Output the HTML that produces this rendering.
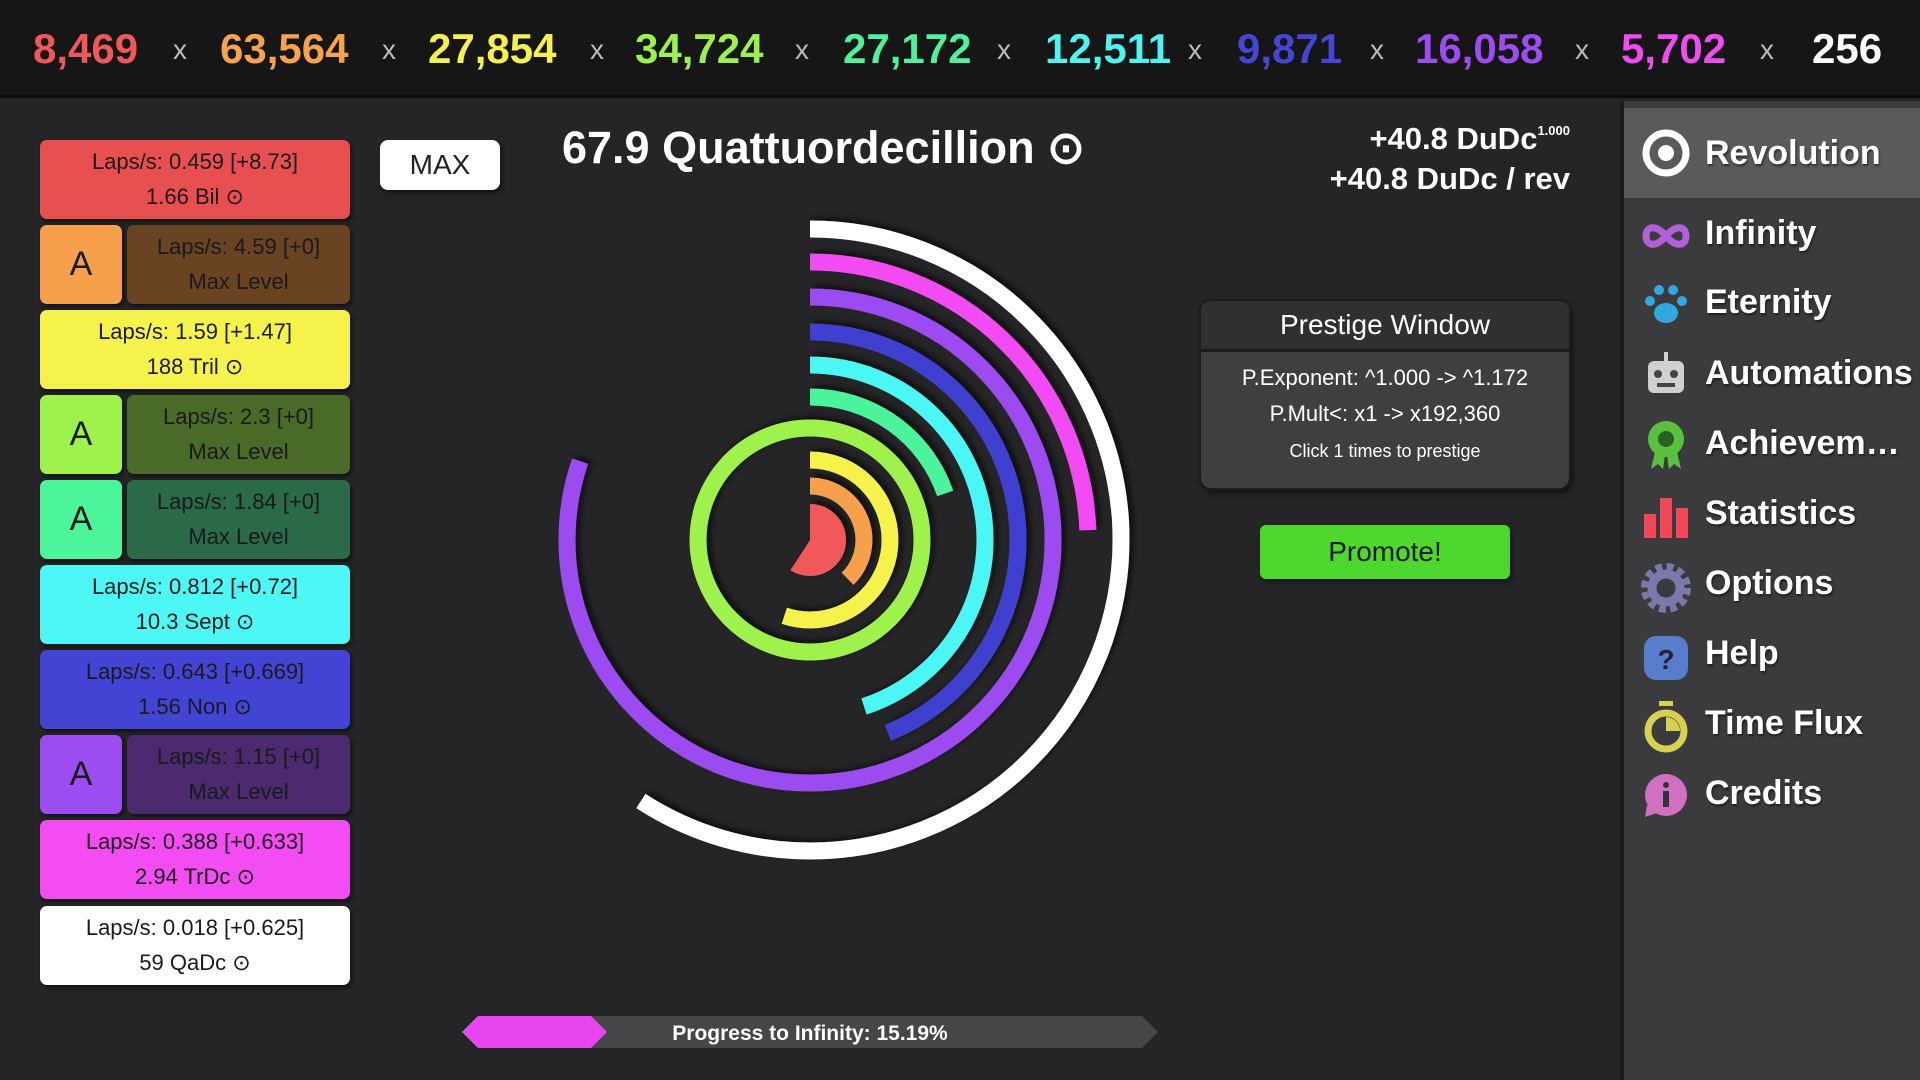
<!DOCTYPE html>
<html><head><meta charset="utf-8"><style>
*{margin:0;padding:0;box-sizing:border-box}
body{width:1920px;height:1080px;background:#252527;font-family:"Liberation Sans",sans-serif;position:relative;overflow:hidden}
.top{position:absolute;left:0;top:0;width:1920px;height:98px;background:#161616;border-bottom:3px solid #0c0c0c}
.n{position:absolute;top:24px;font-size:42px;font-weight:bold;line-height:50px}
.x{position:absolute;top:30px;font-size:28px;color:#bbb;line-height:40px}
.side{position:absolute;left:1620px;top:101px;width:300px;height:979px;background:#3b3b3d;border-left:4px solid #1b1b1d}
.sel{position:absolute;left:0;top:7px;width:300px;height:90px;background:#5a5a5c}
.it{position:absolute;left:81px;font-size:34px;font-weight:bold;color:#fff;line-height:40px;text-shadow:1px 2px 2px rgba(0,0,0,.5)}
.ic{position:absolute;left:17px}
.b{position:absolute;border-radius:7px;text-align:center;font-size:22px;color:#1a1a1a;line-height:35px;padding-top:4px;box-shadow:2px 3px 4px rgba(0,0,0,.5)}
.a{position:absolute;border-radius:7px;font-size:34px;color:#1a1a1a;text-align:center;line-height:79px;box-shadow:2px 3px 4px rgba(0,0,0,.5)}
.w{color:#fff}
</style></head><body>
<div class="top">
<span class="n" style="left:33px;color:#f0585b">8,469</span><span class="x" style="left:173px">x</span>
<span class="n" style="left:220px;color:#f7a34e">63,564</span><span class="x" style="left:382px">x</span>
<span class="n" style="left:428px;color:#f4f04c">27,854</span><span class="x" style="left:590px">x</span>
<span class="n" style="left:635px;color:#9ef04c">34,724</span><span class="x" style="left:795px">x</span>
<span class="n" style="left:843px;color:#4cf39c">27,172</span><span class="x" style="left:997px">x</span>
<span class="n" style="left:1045px;color:#4cf5f2">12,511</span><span class="x" style="left:1188px">x</span>
<span class="n" style="left:1237px;color:#4646d6">9,871</span><span class="x" style="left:1370px">x</span>
<span class="n" style="left:1415px;color:#9c4cf0">16,058</span><span class="x" style="left:1575px">x</span>
<span class="n" style="left:1621px;color:#f04cf0">5,702</span><span class="x" style="left:1760px">x</span>
<span class="n" style="left:1812px;color:#fff">256</span>
</div>

<!-- left buttons -->
<div class="b" style="left:40px;top:140px;width:310px;height:79px;background:#e84f50">Laps/s: 0.459 [+8.73]<br>1.66 Bil ⊙</div>
<div class="a" style="left:40px;top:225px;width:82px;height:79px;background:#f7a04c">A</div>
<div class="b" style="left:127px;top:225px;width:223px;height:79px;background:#6a4322">Laps/s: 4.59 [+0]<br>Max Level</div>
<div class="b" style="left:40px;top:310px;width:310px;height:79px;background:#f5f24b">Laps/s: 1.59 [+1.47]<br>188 Tril ⊙</div>
<div class="a" style="left:40px;top:395px;width:82px;height:79px;background:#9ef24b">A</div>
<div class="b" style="left:127px;top:395px;width:223px;height:79px;background:#4a6a28">Laps/s: 2.3 [+0]<br>Max Level</div>
<div class="a" style="left:40px;top:480px;width:82px;height:79px;background:#4cf59c">A</div>
<div class="b" style="left:127px;top:480px;width:223px;height:79px;background:#2a6a48">Laps/s: 1.84 [+0]<br>Max Level</div>
<div class="b" style="left:40px;top:565px;width:310px;height:79px;background:#4cf7f5">Laps/s: 0.812 [+0.72]<br>10.3 Sept ⊙</div>
<div class="b" style="left:40px;top:650px;width:310px;height:79px;background:#4444d4">Laps/s: 0.643 [+0.669]<br>1.56 Non ⊙</div>
<div class="a" style="left:40px;top:735px;width:82px;height:79px;background:#9c4cf0">A</div>
<div class="b" style="left:127px;top:735px;width:223px;height:79px;background:#4b2a70">Laps/s: 1.15 [+0]<br>Max Level</div>
<div class="b" style="left:40px;top:820px;width:310px;height:79px;background:#f34cf3">Laps/s: 0.388 [+0.633]<br>2.94 TrDc ⊙</div>
<div class="b" style="left:40px;top:906px;width:310px;height:79px;background:#fff">Laps/s: 0.018 [+0.625]<br>59 QaDc ⊙</div>

<div style="position:absolute;left:380px;top:140px;width:120px;height:50px;background:#fff;border-radius:8px;text-align:center;line-height:50px;font-size:28px;color:#222;box-shadow:2px 3px 4px rgba(0,0,0,.5)">MAX</div>

<div style="position:absolute;left:562px;top:120px;font-size:45px;font-weight:bold;color:#fff;line-height:56px">67.9 Quattuordecillion ⊙</div>
<div style="position:absolute;right:350px;top:111px;font-size:31px;font-weight:bold;color:#fff;line-height:40px;text-align:right">+40.8 DuDc<sup style="font-size:13px;vertical-align:14px">1.000</sup><br>+40.8 DuDc / rev</div>

<div style="position:absolute;left:1199px;top:299px;width:372px;height:191px;background:#3f3f41;border:2px solid #1c1c1e;border-radius:12px;overflow:hidden;box-shadow:2px 3px 5px rgba(0,0,0,.5);color:#fff;text-align:center">
<div style="height:51px;background:#303032;border-bottom:3px solid #1c1c1e;font-size:28px;line-height:48px">Prestige Window</div>
<div style="font-size:22px;line-height:36px;padding-top:8px">P.Exponent: ^1.000 -&gt; ^1.172<br>P.Mult&lt;: x1 -&gt; x192,360</div>
<div style="font-size:18px;line-height:30px;padding-top:4px">Click 1 times to prestige</div>
</div>
<div style="position:absolute;left:1260px;top:525px;width:250px;height:54px;background:#4ed72c;border-radius:6px;text-align:center;line-height:54px;font-size:28px;color:#1a1a1a;box-shadow:2px 3px 4px rgba(0,0,0,.5)">Promote!</div>

<svg style="position:absolute;left:0;top:0" width="1920" height="1080">
<defs><filter id="sh" x="-20%" y="-20%" width="140%" height="140%"><feDropShadow dx="3" dy="4" stdDeviation="3" flood-color="#000" flood-opacity="0.6"/></filter></defs>
<g transform="translate(810 540) rotate(-90)" fill="none" stroke-width="17" filter="url(#sh)">
<circle r="311" stroke="#fff" pathLength="360" stroke-dasharray="213 400"/>
<circle r="278" stroke="#f34cf3" pathLength="360" stroke-dasharray="88 400"/>
<circle r="243" stroke="#9c4cf0" pathLength="360" stroke-dasharray="289 400"/>
<circle r="208" stroke="#4040d0" pathLength="360" stroke-dasharray="158 400"/>
<circle r="175" stroke="#4cf7f5" pathLength="360" stroke-dasharray="162 400"/>
<circle r="143" stroke="#4cf39c" pathLength="360" stroke-dasharray="71 400"/>
<circle r="112" stroke="#9ef24b"/>
<circle r="80" stroke="#f5f24b" pathLength="360" stroke-dasharray="199 400"/>
<circle r="54" stroke="#f7a04c" pathLength="360" stroke-dasharray="136 400"/>
<circle r="18" stroke="#f0585b" stroke-width="36" pathLength="360" stroke-dasharray="214 400"/>
</g>
<polygon points="462,1032 478,1016 1142,1016 1158,1032 1142,1048 478,1048" fill="#464648"/>
<polygon points="462,1032 478,1016 591,1016 607,1032 591,1048 478,1048" fill="#e646f0"/>
<text x="810" y="1040" text-anchor="middle" font-family="Liberation Sans" font-weight="bold" font-size="21" fill="#fff">Progress to Infinity: 15.19%</text>
</svg>

<div class="side">
<div class="sel"></div>
<svg class="ic" style="top:27px" width="50" height="50"><circle cx="25" cy="25" r="20" fill="none" stroke="#fff" stroke-width="7"/><circle cx="25" cy="25" r="8" fill="#fff"/></svg>
<div class="it" style="top:32px">Revolution</div>
<svg class="ic" style="top:115px" width="50" height="40"><path d="M25 20 C15 8 5 10 5 20 C5 30 15 32 25 20 C35 8 45 10 45 20 C45 30 35 32 25 20" fill="none" stroke="#b060d8" stroke-width="7"/></svg>
<div class="it" style="top:112px">Infinity</div>
<svg class="ic" style="top:178px" width="50" height="50"><ellipse cx="25" cy="34" rx="12" ry="10" fill="#30a8e0"/><circle cx="9" cy="22" r="5" fill="#30a8e0"/><circle cx="18" cy="11" r="5" fill="#30a8e0"/><circle cx="32" cy="11" r="5" fill="#30a8e0"/><circle cx="41" cy="22" r="5" fill="#30a8e0"/></svg>
<div class="it" style="top:181px">Eternity</div>
<svg class="ic" style="top:248px" width="50" height="50"><rect x="7" y="12" width="36" height="32" rx="6" fill="#d0d0d0"/><rect x="23" y="3" width="4" height="10" fill="#d0d0d0"/><circle cx="17" cy="25" r="4" fill="#444"/><circle cx="33" cy="25" r="4" fill="#444"/><rect x="16" y="34" width="18" height="4" fill="#444"/></svg>
<div class="it" style="top:252px">Automations</div>
<svg class="ic" style="top:316px" width="50" height="55"><path d="M14 35 L10 52 L17 47 L22 52 L24 38Z M36 35 L40 52 L33 47 L28 52 L26 38Z" fill="#5ac040"/><circle cx="25" cy="22" r="18" fill="#5ac040"/><circle cx="25" cy="22" r="8" fill="#2a6020"/></svg>
<div class="it" style="top:322px">Achievem…</div>
<svg class="ic" style="top:393px" width="50" height="45"><rect x="3" y="20" width="12" height="24" fill="#f04858"/><rect x="19" y="4" width="12" height="40" fill="#f04858"/><rect x="35" y="14" width="12" height="30" fill="#f04858"/></svg>
<div class="it" style="top:392px">Statistics</div>
<svg class="ic" style="top:462px" width="50" height="50"><circle cx="25" cy="25" r="19" fill="none" stroke="#7a7aaa" stroke-width="12" stroke-dasharray="6 4"/><circle cx="25" cy="25" r="14" fill="none" stroke="#7a7aaa" stroke-width="9"/></svg>
<div class="it" style="top:462px">Options</div>
<svg class="ic" style="top:532px" width="50" height="50"><rect x="3" y="3" width="44" height="44" rx="12" fill="#5a7ccc"/><text x="25" y="36" text-anchor="middle" font-size="28" font-weight="bold" fill="#223" font-family="Liberation Sans">?</text></svg>
<div class="it" style="top:532px">Help</div>
<svg class="ic" style="top:598px" width="50" height="55"><rect x="18" y="2" width="14" height="5" fill="#d8d050"/><circle cx="25" cy="32" r="18" fill="none" stroke="#d8d050" stroke-width="7"/><path d="M25 32 L25 18 A14 14 0 0 1 39 32Z" fill="#d8d050"/></svg>
<div class="it" style="top:602px">Time Flux</div>
<svg class="ic" style="top:670px" width="50" height="50"><circle cx="25" cy="24" r="21" fill="#d070c0"/><path d="M6 34 L4 46 L16 42Z" fill="#d070c0"/><circle cx="25" cy="14" r="3" fill="#333"/><rect x="22" y="20" width="6" height="16" fill="#333"/></svg>
<div class="it" style="top:672px">Credits</div>
</div>
</body></html>
